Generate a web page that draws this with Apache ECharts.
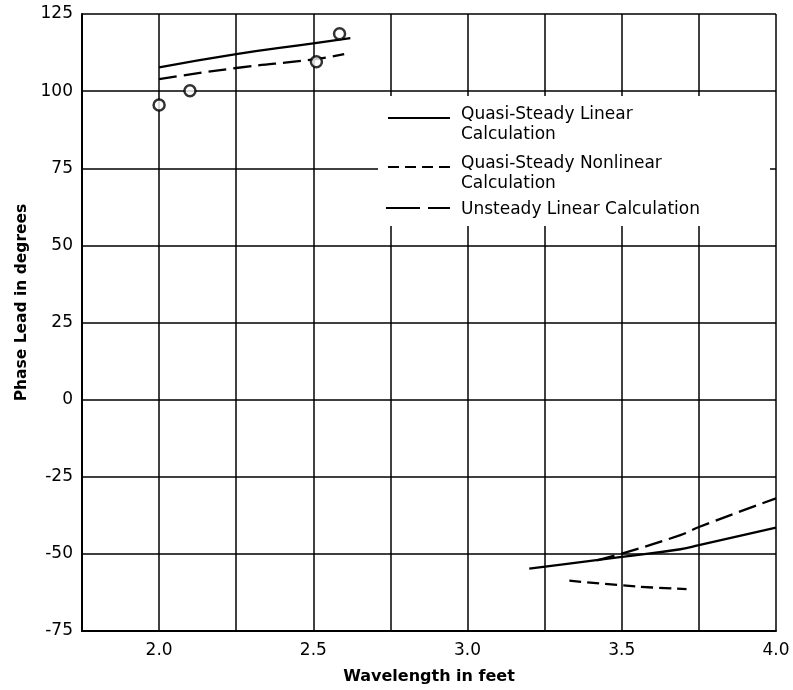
<!DOCTYPE html>
<html>
<head>
<meta charset="utf-8">
<script src="https://cdn.jsdelivr.net/npm/echarts@6/dist/echarts.min.js"></script>
<style>
  html, body { margin: 0; padding: 0; background: #fff; }
  #chart { width: 793px; height: 690px; }
</style>
</head>
<body>
<div id="chart"></div>
<script>
// wavelength (ft) / phase lead (deg)
const quasiLinearUpperX = [2.0, 2.25, 2.5, 2.62];
const quasiLinearUpperY = [107.7, 112.0, 115.5, 117.2];
const quasiLinearLowerX = [3.2, 3.31, 3.5, 3.69, 3.75, 4.0];
const quasiLinearLowerY = [-54.8, -53.4, -51.0, -48.5, -47.2, -41.5];

const nonlinearX = [3.33, 3.5, 3.6, 3.71];
const nonlinearY = [-58.7, -60.2, -60.9, -61.4];

const unsteadyUpperX = [2.0, 2.25, 2.5, 2.6];
const unsteadyUpperY = [103.9, 107.5, 110.3, 112.0];
const unsteadyLowerX = [3.42, 3.5, 3.69, 3.75, 4.0];
const unsteadyLowerY = [-52.1, -49.9, -43.9, -41.3, -32.0];

const experimentX = [2.0, 2.1, 2.51, 2.585];
const experimentY = [95.5, 100.1, 109.5, 118.6];

const legendLabels = [
  'Quasi-Steady Linear\nCalculation',
  'Quasi-Steady Nonlinear\nCalculation',
  'Unsteady Linear Calculation'
];

function pairs(xs, ys) {
  return xs.map(function (x, i) { return [x, ys[i]]; });
}

const font = 'DejaVu Sans';
const chart = echarts.init(document.getElementById('chart'));

const lineSeries = function (xs, ys, dash) {
  return {
    type: 'line',
    data: pairs(xs, ys),
    showSymbol: false,
    smooth: 0.5,
    z: 5,
    lineStyle: { color: '#000', width: 2.3, type: dash }
  };
};

chart.setOption({
  backgroundColor: '#fff',
  animation: false,
  grid: { left: 82, right: 17, top: 14, bottom: 59 },
  xAxis: {
    type: 'value',
    min: 1.75,
    max: 4.0,
    interval: 0.25,
    name: 'Wavelength in feet',
    nameLocation: 'middle',
    nameGap: 38,
    nameTextStyle: { fontFamily: font, fontSize: 16, fontWeight: 'bold', color: '#000' },
    axisLine: { show: true, onZero: false, lineStyle: { color: '#000', width: 2 } },
    axisTick: { show: false },
    axisLabel: {
      margin: 11,
      fontFamily: font, fontSize: 17, color: '#000',
      formatter: function (v) {
        const d = v * 2;
        return (v >= 2 && Math.abs(d - Math.round(d)) < 1e-6) ? v.toFixed(1) : '';
      }
    },
    splitLine: { show: true, lineStyle: { color: '#000', width: 1.5 } }
  },
  yAxis: {
    type: 'value',
    min: -75,
    max: 125,
    interval: 25,
    name: 'Phase Lead in degrees',
    nameLocation: 'middle',
    nameGap: 52,
    nameTextStyle: { fontFamily: font, fontSize: 15.5, fontWeight: 'bold', color: '#000', padding: [0, 0, 0, 40] },
    axisLine: { show: true, onZero: false, lineStyle: { color: '#000', width: 2 } },
    axisTick: { show: false },
    axisLabel: { margin: 9, fontFamily: font, fontSize: 17, color: '#000' },
    splitLine: { show: true, lineStyle: { color: '#000', width: 1.5 } }
  },
  graphic: [
    // white box behind the key, hides the grid lines there
    { type: 'rect', z: 50, shape: { x: 378, y: 96, width: 392, height: 130 }, style: { fill: '#fff' } },
    { type: 'line', z: 51, shape: { x1: 388, y1: 118, x2: 450, y2: 118 }, style: { stroke: '#000', lineWidth: 2 } },
    { type: 'line', z: 51, shape: { x1: 388, y1: 167, x2: 450, y2: 167 }, style: { stroke: '#000', lineWidth: 2, lineDash: [11, 6] } },
    { type: 'line', z: 51, shape: { x1: 386, y1: 208, x2: 450, y2: 208 }, style: { stroke: '#000', lineWidth: 2, lineDash: [34, 8] } },
    { type: 'text', z: 51, x: 461, y: 105, style: { text: legendLabels[0], fill: '#000', font: '17px "DejaVu Sans"', lineHeight: 20 } },
    { type: 'text', z: 51, x: 461, y: 154, style: { text: legendLabels[1], fill: '#000', font: '17px "DejaVu Sans"', lineHeight: 20 } },
    { type: 'text', z: 51, x: 461, y: 200, style: { text: legendLabels[2], fill: '#000', font: '17px "DejaVu Sans"', lineHeight: 20 } }
  ],
  series: [
    lineSeries(quasiLinearUpperX, quasiLinearUpperY, 'solid'),
    lineSeries(quasiLinearLowerX, quasiLinearLowerY, 'solid'),
    lineSeries(nonlinearX, nonlinearY, [12, 6]),
    lineSeries(unsteadyUpperX, unsteadyUpperY, [18, 7]),
    lineSeries(unsteadyLowerX, unsteadyLowerY, [18, 7]),
    {
      type: 'scatter',
      data: pairs(experimentX, experimentY),
      symbol: 'circle',
      symbolSize: 11,
      z: 6,
      itemStyle: { color: '#fff', borderColor: '#000', borderWidth: 2.5 }
    }
  ]
});
</script>
</body>
</html>
